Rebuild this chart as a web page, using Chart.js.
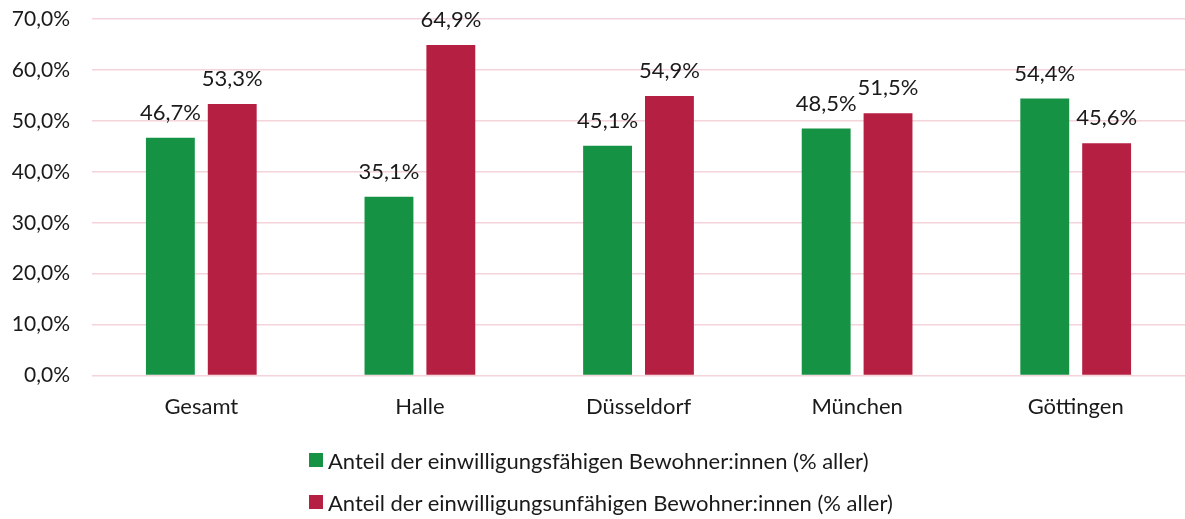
<!DOCTYPE html>
<html lang="de">
<head>
<meta charset="utf-8">
<script src="https://cdn.jsdelivr.net/npm/chart.js@4"></script>
<style>
  html, body { margin: 0; padding: 0; background: #fff; }
  #wrap { position: relative; width: 1185px; height: 519px; }
  #legende { position: absolute; left: 309px; top: 439px; font-family: Lato, "Noto Sans", sans-serif; font-size: 22px; color: #1a1a1a; }
  .item { display: flex; align-items: center; height: 42px; }
  .box { width: 14px; height: 14px; margin-right: 5px; }
</style>
</head>
<body>
<div id="wrap">
  <canvas id="grafico" width="1185" height="519"></canvas>
  <div id="legende"></div>
</div>
<script>
const kategorien = ['Gesamt', 'Halle', 'Düsseldorf', 'München', 'Göttingen'];
const faehig = [46.7, 35.1, 45.1, 48.5, 54.4];
const unfaehig = [53.3, 64.9, 54.9, 51.5, 45.6];
const serienNamen = [
    'Anteil der einwilligungsfähigen Bewohner:innen (% aller)',
    'Anteil der einwilligungsunfähigen Bewohner:innen (% aller)'
];
const farben = ['#159243', '#B41F42'];

function prozent(v) {
    return v.toFixed(1).replace('.', ',') + '%';
}

const schrift = { family: 'Lato, "Noto Sans", sans-serif', size: 22 };

// Werte über den Balken
const wertLabels = {
    id: 'wertLabels',
    afterDatasetsDraw(chart) {
        const ctx = chart.ctx;
        ctx.save();
        ctx.font = '22px Lato, "Noto Sans", sans-serif';
        ctx.fillStyle = '#1a1a1a';
        ctx.textAlign = 'center';
        ctx.textBaseline = 'middle';
        chart.data.datasets.forEach((ds, i) => {
            chart.getDatasetMeta(i).data.forEach((bar, j) => {
                ctx.fillText(prozent(ds.data[j]), bar.x, bar.y - 25);
            });
        });
        ctx.restore();
    }
};

const grafico = document.getElementById('grafico').getContext('2d');

const chart = new Chart(grafico, {
    type: 'bar',
    data: {
        labels: kategorien,
        datasets: [
            { label: serienNamen[0], data: faehig, backgroundColor: farben[0] },
            { label: serienNamen[1], data: unfaehig, backgroundColor: farben[1] }
        ]
    },
    options: {
        responsive: false,
        animation: false,
        categoryPercentage: 0.566,
        barPercentage: 0.79,
        layout: { padding: { top: 19, right: 0, bottom: 81, left: 0 } },
        plugins: {
            legend: { display: false },
            tooltip: { enabled: false }
        },
        scales: {
            x: {
                grid: { display: false, drawTicks: false },
                border: { display: false },
                ticks: { color: '#1a1a1a', font: schrift, padding: 18 }
            },
            y: {
                min: 0,
                max: 70,
                afterFit: function (s) { s.width = 92; },
                grid: { color: '#F5D3DA', lineWidth: 1.5, drawTicks: true, tickLength: 22, tickColor: 'rgba(0,0,0,0)' },
                border: { display: false },
                ticks: {
                    stepSize: 10,
                    color: '#1a1a1a',
                    font: { family: schrift.family, size: 21 },
                    padding: 0,
                    callback: function (value) { return prozent(value); }
                }
            }
        }
    },
    plugins: [wertLabels]
});

const legende = document.getElementById('legende');
chart.data.datasets.forEach(ds => {
    const item = document.createElement('div');
    item.className = 'item';
    const box = document.createElement('span');
    box.className = 'box';
    box.style.background = ds.backgroundColor;
    const text = document.createElement('span');
    text.textContent = ds.label;
    item.appendChild(box);
    item.appendChild(text);
    legende.appendChild(item);
});
</script>
</body>
</html>
